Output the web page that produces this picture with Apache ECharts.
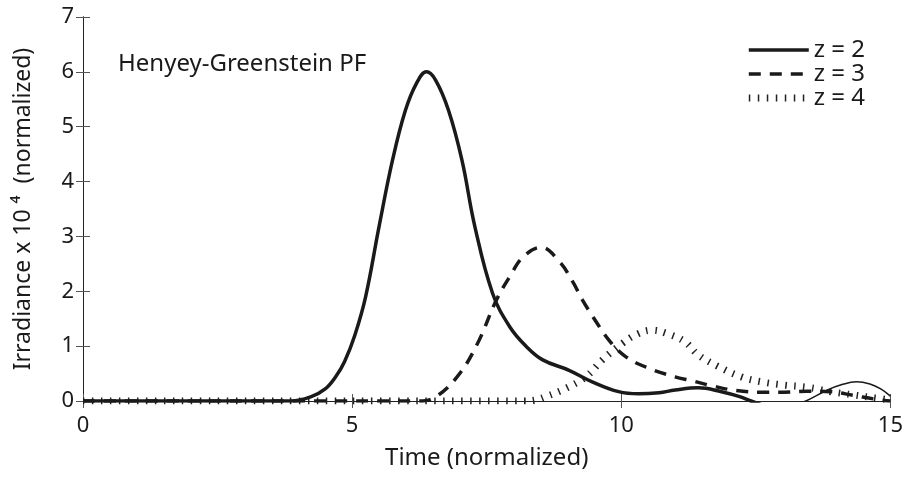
<!DOCTYPE html>
<html><head><meta charset="utf-8">
<script src="https://cdn.jsdelivr.net/npm/echarts@6/dist/echarts.min.js"></script>
<style>html,body{margin:0;padding:0;background:#fff}#c{width:906px;height:477px}</style>
</head><body><div id="c"></div>
<script>
// z = 2 (main part, goes below zero and is clipped)
const t2 = [0, 3.87, 4.24, 4.5, 4.7, 4.86, 5.05, 5.25, 5.5, 5.75, 5.99, 6.2, 6.38, 6.55, 6.79, 7.04, 7.28, 7.61, 7.93, 8.24, 8.54, 9.03, 9.46, 9.95, 10.32, 10.7, 11.0, 11.43, 11.86, 12.2, 12.41, 12.7];
const v2 = [0, 0, 0.08, 0.22, 0.45, 0.72, 1.2, 1.9, 3.18, 4.39, 5.30, 5.8, 6.0, 5.85, 5.3, 4.39, 3.18, 1.96, 1.35, 0.99, 0.75, 0.56, 0.35, 0.17, 0.13, 0.15, 0.2, 0.24, 0.17, 0.08, 0, -0.1];
// z = 2 tail (thin part after re-emerging)
const t2b = [13.1, 13.43, 13.83, 14.1, 14.37, 14.62, 14.82, 15];
const v2b = [-0.12, 0, 0.2, 0.3, 0.35, 0.31, 0.22, 0.09];
// z = 3
const t3 = [0, 6.2, 6.52, 6.95, 7.32, 7.68, 7.93, 8.18, 8.51, 8.85, 9.10, 9.28, 9.53, 9.77, 10.08, 10.5, 11.0, 11.31, 11.67, 12.14, 12.6, 13.03, 13.45, 13.89, 14.32, 14.74, 15];
const v3 = [0, 0, 0.06, 0.44, 1.03, 1.84, 2.27, 2.63, 2.80, 2.54, 2.17, 1.84, 1.45, 1.11, 0.81, 0.6, 0.44, 0.37, 0.28, 0.19, 0.16, 0.16, 0.18, 0.17, 0.10, 0.03, 0];
// z = 4
const t4 = [0, 8.2, 8.42, 8.6, 8.97, 9.34, 9.65, 10.02, 10.3, 10.57, 10.85, 11.18, 11.43, 11.8, 12.23, 12.6, 13.03, 13.46, 13.89, 14.32, 14.75, 15];
const v4 = [0, 0, 0.02, 0.08, 0.23, 0.44, 0.75, 1.05, 1.22, 1.29, 1.23, 1.08, 0.84, 0.63, 0.44, 0.35, 0.29, 0.25, 0.17, 0.11, 0.05, 0.02];

const names = ['z = 2', 'z = 3', 'z = 4'];
const annotation = 'Henyey-Greenstein PF';
const xTitle = 'Time (normalized)';
const yTitle = 'Irradiance x 10 \u2074  (normalized)';

const pairs = (t, v) => t.map((x, i) => [x, v[i]]);
const FONT = 'Noto Sans';
const ink = '#1a1a1a';

const solidStyle = { color: ink, width: 3.5 };
const dashStyle = { color: ink, width: 3.5, type: [12, 9], cap: 'butt' };
const dotStyle = { color: '#222', width: 7, type: [1.5, 7.5], cap: 'butt' };

const chart = echarts.init(document.getElementById('c'));
const axisCommon = {
  type: 'value',
  axisLine: { show: true, lineStyle: { color: '#222', width: 1 } },
  axisTick: { show: true, inside: true, length: 7, lineStyle: { color: '#555' } },
  splitLine: { show: false }
};
chart.setOption({
  animation: false,
  textStyle: { fontFamily: FONT },
  grid: { left: 83, right: 9, top: 17, bottom: 76 },
  title: {
    text: annotation, left: 113, top: 47,
    textStyle: { fontFamily: FONT, fontSize: 24, fontWeight: 'normal', color: ink }
  },
  legend: {
    data: [
      { name: names[0], lineStyle: solidStyle },
      { name: names[1], lineStyle: dashStyle },
      { name: names[2], lineStyle: dotStyle }
    ],
    orient: 'vertical', right: 36, top: 33,
    itemWidth: 60, itemHeight: 14, itemGap: 0,
    itemStyle: { opacity: 0 },
    textStyle: { fontFamily: FONT, fontSize: 24, color: ink, lineHeight: 24 }
  },
  xAxis: [
    Object.assign({}, axisCommon, {
      min: 0, max: 15, interval: 5, position: 'bottom',
      axisLabel: { fontFamily: FONT, fontSize: 22, color: ink, margin: 14 },
      name: xTitle, nameLocation: 'middle', nameGap: 45,
      nameTextStyle: { fontFamily: FONT, fontSize: 24, color: ink }
    }),
    Object.assign({}, axisCommon, {
      min: 0, max: 15, interval: 5, position: 'top', axisLabel: { show: false }
    })
  ],
  yAxis: [
    Object.assign({}, axisCommon, {
      min: 0, max: 7, interval: 1, position: 'left',
      axisLabel: { fontFamily: FONT, fontSize: 22, color: ink, margin: 9 },
      name: yTitle, nameLocation: 'middle', nameGap: 48,
      nameTextStyle: { fontFamily: FONT, fontSize: 23, color: ink }
    }),
    Object.assign({}, axisCommon, {
      min: 0, max: 7, interval: 1, position: 'right', axisLabel: { show: false }
    })
  ],
  series: [
    { name: names[2], type: 'line', data: pairs(t4, v4), smooth: 0.4, symbol: 'none', clip: true, z: 2,
      lineStyle: dotStyle, itemStyle: { color: '#222' } },
    { name: names[1], type: 'line', data: pairs(t3, v3), smooth: 0.4, symbol: 'none', clip: true, z: 3,
      lineStyle: dashStyle, itemStyle: { color: ink } },
    { name: names[0], type: 'line', data: pairs(t2, v2), smooth: 0.4, symbol: 'none', clip: true, z: 4,
      lineStyle: solidStyle, itemStyle: { color: ink } },
    { name: 'tail', type: 'line', data: pairs(t2b, v2b), smooth: 0.4, symbol: 'none', clip: true, z: 4,
      lineStyle: { color: ink, width: 1.6 }, itemStyle: { color: ink } }
  ]
});
</script></body></html>
